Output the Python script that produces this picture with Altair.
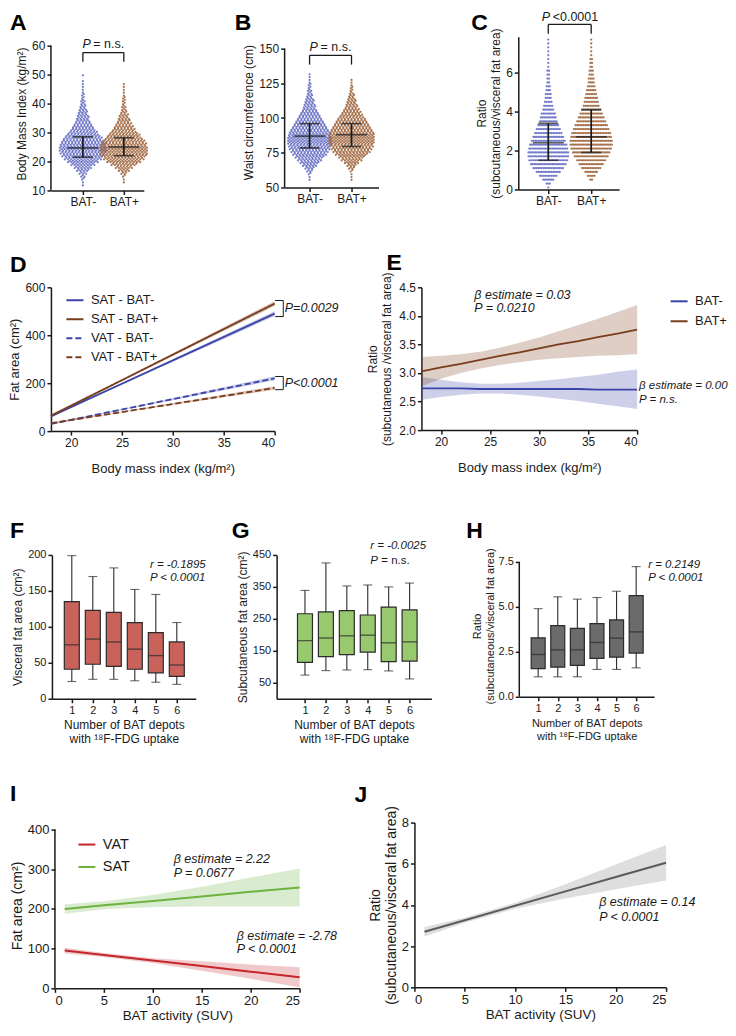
import altair as alt
import pandas as pd

FONT = "Liberation Sans"
INK = "#1a1a1a"
BLUE_DOT, BROWN_DOT = "#6d75c6", "#a36c45"
BLUE, BROWN = "#3b43a7", "#7a3d1b"
RED, GREEN = "#c4262b", "#6cb33f"
J_GREY = "#5b5b5b"
F_FILL, G_FILL, H_FILL = "#c9625a", "#98c96f", "#6b6b6b"
EDGE = "#2b2b2b"
DOT_STEP_PX = 1.65

LETTERS = ["A", "B", "C", "D", "E", "F", "G", "H", "I", "J"]
GROUPS = ["BAT-", "BAT+"]

# ---------------- A: BMI (dots per 1 kg/m2 row) ----------------
A_rows = list(range(12, 51))
A_neg = [1, 1, 2, 3, 5, 8, 11, 15, 19, 23, 26, 28, 29, 29, 28, 26, 24, 21, 18, 15,
         13, 11, 9, 8, 7, 6, 5, 4, 3, 3, 2, 2, 1, 1, 1, 1, 1, 0, 1]
A_pos = [0, 1, 1, 2, 4, 7, 11, 16, 21, 25, 28, 29, 29, 29, 28, 26, 23, 20, 17, 14,
         12, 10, 8, 7, 6, 4, 3, 3, 2, 2, 2, 1, 1, 1, 1, 1, 0, 0, 0]
A_mean, A_lo, A_hi = [24.7, 25.0], [21.5, 22.0], [28.5, 28.2]

# ---------------- B: waist (dots per 2 cm row) ----------------
B_rows = list(range(56, 133, 2))
B_neg = [1, 1, 2, 4, 6, 9, 12, 15, 18, 21, 23, 25, 26, 27, 27, 27, 26, 25, 23, 21,
         19, 17, 15, 13, 11, 9, 8, 7, 6, 5, 4, 3, 3, 2, 2, 1, 1, 1, 1]
B_pos = [1, 1, 1, 2, 4, 6, 9, 13, 16, 20, 23, 25, 27, 28, 28, 28, 28, 27, 25, 23,
         21, 19, 17, 14, 12, 10, 8, 7, 6, 5, 4, 3, 2, 2, 1, 1, 1, 0, 0]
B_mean, B_lo, B_hi = [87.0, 88.0], [78.5, 79.5], [96.0, 96.0]

# ---------------- C: ratio (dots per 0.2 row) ----------------
C_rows = [0.1, 0.3, 0.5, 0.7, 0.9, 1.1, 1.3, 1.5, 1.7, 1.9, 2.1, 2.3, 2.5, 2.7, 2.9,
          3.1, 3.3, 3.5, 3.7, 3.9, 4.1, 4.3, 4.5, 4.7, 4.9, 5.1, 5.3, 5.5, 5.7, 5.9,
          6.1, 6.3, 6.5, 6.7, 6.9, 7.1, 7.3, 7.5, 7.7]
C_neg = [1, 3, 7, 11, 15, 19, 22, 24, 25, 25, 24, 23, 21, 19, 17, 15, 13, 11, 10, 9,
         7, 6, 5, 4, 4, 3, 3, 2, 2, 2, 2, 1, 1, 1, 1, 1, 1, 1, 1]
C_pos = [0, 0, 2, 5, 8, 12, 15, 18, 21, 23, 25, 26, 26, 25, 24, 22, 20, 18, 16, 14,
         12, 10, 9, 8, 7, 6, 5, 4, 4, 3, 3, 2, 2, 2, 1, 1, 1, 1, 1]
C_mean, C_lo, C_hi = [2.4, 2.7], [1.5, 1.9], [3.4, 4.1]

# ---------------- D: fat area vs BMI ----------------
D_series = ["SAT - BAT-", "SAT - BAT+", "VAT - BAT-", "VAT - BAT+"]
D_x = [18, 40]
D_line = {"SAT - BAT-": [62, 490], "SAT - BAT+": [64, 532],
          "VAT - BAT-": [30, 220], "VAT - BAT+": [33, 180]}
D_band_x = [18, 25, 40]
D_band_lo = {"SAT - BAT-": [56, 195, 480], "SAT - BAT+": [58, 210, 522],
             "VAT - BAT-": [26, 88, 212], "VAT - BAT+": [29, 78, 173]}
D_band_hi = {"SAT - BAT-": [68, 201, 500], "SAT - BAT+": [70, 216, 542],
             "VAT - BAT-": [34, 92, 229], "VAT - BAT+": [37, 82, 187]}
D_p_text = ["P=0.0029", "P<0.0001"]
D_p_y = [512, 200]
D_br_top, D_br_bot = [545, 228], [478, 173]

# ---------------- E: ratio vs BMI ----------------
E_x = [18, 20, 22, 24, 26, 28, 30, 32, 34, 36, 38, 40]
E_pos_fit = [3.03, 3.10, 3.16, 3.23, 3.30, 3.36, 3.43, 3.50, 3.56, 3.63, 3.69, 3.76]
E_pos_lo = [2.77, 2.90, 3.00, 3.08, 3.14, 3.19, 3.23, 3.26, 3.28, 3.30, 3.31, 3.33]
E_pos_hi = [3.28, 3.30, 3.33, 3.37, 3.44, 3.53, 3.62, 3.73, 3.84, 3.95, 4.07, 4.19]
E_neg_fit = [2.73, 2.73, 2.73, 2.72, 2.72, 2.72, 2.72, 2.72, 2.72, 2.71, 2.71, 2.71]
E_neg_lo = [2.53, 2.58, 2.62, 2.64, 2.64, 2.62, 2.59, 2.55, 2.51, 2.46, 2.42, 2.37]
E_neg_hi = [2.93, 2.88, 2.84, 2.81, 2.81, 2.83, 2.86, 2.89, 2.93, 2.97, 3.02, 3.06]

# ---------------- F / G / H: box plots by number of BAT depots ----------------
DEPOTS = [1, 2, 3, 4, 5, 6]
F_low = [24, 27, 27, 25, 23, 20]
F_q1 = [41, 48, 45, 41, 36, 31]
F_med = [75, 83, 79, 69, 60, 47]
F_q3 = [135, 123, 120, 106, 92, 79]
F_high = [199, 170, 182, 152, 145, 106]
G_low = [74, 88, 90, 91, 87, 62]
G_q1 = [114, 132, 138, 146, 116, 118]
G_med = [182, 190, 197, 199, 175, 178]
G_q3 = [266, 272, 276, 262, 287, 278]
G_high = [339, 425, 353, 356, 350, 362]
H_low = [1.11, 1.11, 1.11, 1.52, 1.52, 1.61]
H_q1 = [1.56, 1.65, 1.74, 2.13, 2.20, 2.43]
H_med = [2.35, 2.61, 2.61, 3.02, 3.26, 3.61]
H_q3 = [3.28, 3.96, 3.80, 4.07, 4.28, 5.63]
H_high = [4.90, 5.56, 5.43, 5.52, 5.87, 7.24]

# ---------------- I / J: vs BAT activity ----------------
IJ_x = [1, 5, 10, 15, 20, 25]
I_sat_fit = [200, 209, 220, 231, 243, 254]
I_sat_lo = [188, 199, 205, 206, 206, 206]
I_sat_hi = [212, 219, 235, 256, 279, 302]
I_vat_fit = [95, 84, 70, 56, 42, 28]
I_vat_lo = [88, 79, 64, 44, 24, 3]
I_vat_hi = [102, 89, 76, 68, 60, 53]
J_fit = [2.70, 3.26, 3.96, 4.66, 5.36, 6.05]
J_lo = [2.47, 3.14, 3.81, 4.31, 4.76, 5.19]
J_hi = [2.93, 3.38, 4.11, 5.01, 5.96, 6.91]


# ======================= helpers =======================
def sc(dom):
    return alt.Scale(domain=list(dom), nice=False, zero=False)


class Frame:
    def __init__(self, xdom, ydom, xa, ya):
        self.xs, self.ys, self.xa, self.ya = sc(xdom), sc(ydom), xa, ya

    def X(self, f):
        return alt.X(f, type="quantitative", scale=self.xs, axis=self.xa)

    def Y(self, f):
        return alt.Y(f, type="quantitative", scale=self.ys, axis=self.ya)


def yaxis(values, title, lsize, tsize, domain=True, fmt=None, tpad=3):
    kw = dict(values=values, title=title, labelFontSize=lsize, titleFontSize=tsize,
              domain=domain, titlePadding=tpad)
    if fmt:
        kw["format"] = fmt
    return alt.Axis(**kw)


def xaxis(values, title, lsize, tsize, tpad=3, expr=None, fmt=None):
    kw = dict(values=values, title=title, labelFontSize=lsize, titleFontSize=tsize,
              titlePadding=tpad, labelAngle=0)
    if expr:
        kw["labelExpr"] = expr
    if fmt:
        kw["format"] = fmt
    return alt.Axis(**kw)


def note(fr, xv, yv, texts, size, italic=True, dx=0, align="left"):
    df = pd.DataFrame({"x": xv, "y": yv, "t": texts})
    return alt.Chart(df).mark_text(
        align=align, baseline="middle", dx=dx, fontSize=size,
        fontStyle="italic" if italic else "normal", font=FONT, color=INK
    ).encode(x=fr.X("x"), y=fr.Y("y"), text="t:N")


def letter(ch, dx, dy):
    return alt.Chart(pd.DataFrame({"t": [ch]})).mark_text(
        align="left", baseline="top", fontSize=23, fontWeight="bold",
        font=FONT, color="black"
    ).encode(x=alt.value(dx), y=alt.value(dy), text="t:N")


def axis_line(fr, lo, hi):
    df = pd.DataFrame({"a": [lo], "b": [hi]})
    return alt.Chart(df).mark_rule(color=INK, strokeWidth=1.5).encode(
        x=alt.value(0), y=fr.Y("a"), y2="b:Q")


def gap(w):
    return alt.Chart(pd.DataFrame({"s": [0]})).mark_point(opacity=0).encode(
        x=alt.value(0), y=alt.value(0)).properties(width=w, height=1)


def row_spacer(w, h, top):
    # invisible guide fixing how far a row reaches above and below its plot tops
    return alt.Chart(pd.DataFrame({"s": [0]})).mark_rule(opacity=0, strokeWidth=0).encode(
        x=alt.value(0), y=alt.value(-top), y2=alt.value(h)).properties(width=w, height=h)


def stroke_legend(x, y, size, pad):
    return alt.Legend(orient="none", legendX=x, legendY=y, title=None, labelFontSize=size,
                      symbolType="stroke", symbolSize=290, symbolStrokeWidth=2, rowPadding=pad,
                      labelOffset=6, padding=0, labelFont=FONT, labelColor=INK)


# ======================= swarm panels =======================
def swarm_panel(ch, lxy, rows, counts, stats, xdom, ydom, yvals, ytitle, w, h,
                bracket, ptext, span=None, fmt=None, stagger=0.0):
    xa = alt.Axis(values=[1, 2], labelExpr="datum.value == 1 ? 'BAT-' : 'BAT+'",
                  title=None, labelFontSize=12)
    ya = yaxis(yvals, ytitle, 12, 12, domain=span is None, fmt=fmt)
    fr = Frame(xdom, ydom, xa, ya)
    step = DOT_STEP_PX / (w / (xdom[1] - xdom[0]))
    recs = []
    for gi, g in enumerate(GROUPS):
        for yv, n in zip(rows, counts[gi]):
            for k in range(n):
                recs.append({"x": gi + 1 + (k - (n - 1) / 2) * step,
                             "y": yv + (stagger if k % 2 else -stagger), "grp": g})
    dots = pd.DataFrame(recs)
    layers = [alt.Chart(dots).mark_circle(size=5, opacity=0.95).encode(
        x=fr.X("x"), y=fr.Y("y"),
        color=alt.Color("grp:N", scale=alt.Scale(domain=GROUPS, range=[BLUE_DOT, BROWN_DOT]),
                        legend=None))]
    eb = pd.DataFrame({"x": [1, 2], "mean": stats[0], "lo": stats[1], "hi": stats[2]})
    layers.append(alt.Chart(eb).mark_rule(color=INK, strokeWidth=1.7).encode(
        x=fr.X("x"), y=fr.Y("lo"), y2="hi:Q"))
    for field, size in (("mean", 31), ("lo", 20), ("hi", 20)):
        layers.append(alt.Chart(eb).mark_tick(orient="horizontal", size=size, thickness=1.7,
                                              color=INK).encode(x=fr.X("x"), y=fr.Y(field)))
    seg = pd.DataFrame({"x": [1, 1, 2], "x2": [2, 1, 2],
                        "y": [bracket[0], bracket[1], bracket[1]],
                        "y2": [bracket[0], bracket[0], bracket[0]]})
    layers.append(alt.Chart(seg).mark_rule(color=INK, strokeWidth=1.3).encode(
        x=fr.X("x"), x2="x2:Q", y=fr.Y("y"), y2="y2:Q"))
    p_first, p_rest, p_y, p_dx = ptext
    layers.append(note(fr, [1.5], [p_y], [p_first], 12.5, italic=True, dx=p_dx[0]))
    layers.append(note(fr, [1.5], [p_y], [p_rest], 12.5, italic=False, dx=p_dx[1]))
    if span:
        layers.append(axis_line(fr, span[0], span[1]))
    layers.append(letter(ch, lxy[0], lxy[1]))
    return alt.layer(*layers).properties(width=w, height=h)


panel_A = swarm_panel("A", (-41, -25), A_rows, (A_neg, A_pos), (A_mean, A_lo, A_hi),
                      (0.22, 2.488), (10, 63.1), [10, 20, 30, 40, 50, 60],
                      "Body Mass Index (kg/m²)", 93, 154, (57.6, 54.4),
                      ("P", "= n.s.", 60.7, (-21, -10)), span=(10, 60), stagger=0.25)
panel_B = swarm_panel("B", (-50, -25), B_rows, (B_neg, B_pos), (B_mean, B_lo, B_hi),
                      (0.405, 2.643), (50, 158.63), [50, 75, 100, 125, 150],
                      "Waist circumference (cm)", 94, 151, (145.2, 138.5),
                      ("P", "= n.s.", 151.2, (-21, -10)), span=(50, 150), stagger=0.5)
panel_C = swarm_panel("C", (-47, -25), C_rows, (C_neg, C_pos), (C_mean, C_lo, C_hi),
                      (0.302, 2.651), (0, 7.85), [0, 2, 4, 6],
                      ["Ratio", "(subcutaneous/visceral fat area)"], 101, 153, (8.48, 8.0),
                      ("P", "<0.0001", 8.86, (-28, -17)))

# ======================= D =======================
D_colors = [BLUE, BROWN, BLUE, BROWN]
xaD = xaxis([20, 25, 30, 35, 40], "Body mass index (kg/m²)", 12, 13, tpad=14)
yaD = yaxis([0, 200, 400, 600], "Fat area (cm²)", 12, 13)
frD = Frame((18, 40), (0, 600), xaD, yaD)
d_line = pd.DataFrame([{"x": x, "y": D_line[s][i], "s": s}
                       for s in D_series for i, x in enumerate(D_x)])
d_band = pd.DataFrame([{"x": x, "lo": D_band_lo[s][i], "hi": D_band_hi[s][i], "s": s,
                        "c": D_colors[D_series.index(s)]}
                       for s in D_series for i, x in enumerate(D_band_x)])
legD = stroke_legend(14, 3, 13, 2)
d_layers = [
    alt.Chart(d_band).mark_area(opacity=0.3).encode(
        x=frD.X("x"), y=frD.Y("lo"), y2="hi:Q", fill=alt.Fill("c:N", scale=None),
        detail="s:N"),
    alt.Chart(d_line).mark_line(strokeWidth=1.8).encode(
        x=frD.X("x"), y=frD.Y("y"),
        color=alt.Color("s:N", scale=alt.Scale(domain=D_series, range=D_colors), legend=legD),
        strokeDash=alt.StrokeDash("s:N", scale=alt.Scale(domain=D_series,
                                  range=[[1, 0], [1, 0], [6, 3], [6, 3]]), legend=legD)),
]
d_seg = []
for top, bot in zip(D_br_top, D_br_bot):
    d_seg += [{"x": 40.05, "x2": 40.85, "y": top, "y2": top},
              {"x": 40.85, "x2": 40.85, "y": bot, "y2": top},
              {"x": 40.05, "x2": 40.85, "y": bot, "y2": bot}]
d_layers.append(alt.Chart(pd.DataFrame(d_seg)).mark_rule(color=INK, strokeWidth=1).encode(
    x=frD.X("x"), x2="x2:Q", y=frD.Y("y"), y2="y2:Q"))
d_layers.append(note(frD, [41.0, 41.0], D_p_y, D_p_text, 12.5))
d_layers.append(letter("D", -41, -33.5))
panel_D = alt.layer(*d_layers).properties(width=224, height=144)

# ======================= E =======================
xaE = xaxis([20, 25, 30, 35, 40], "Body mass index (kg/m²)", 12, 13, tpad=14)
yaE = yaxis([2.0, 2.5, 3.0, 3.5, 4.0, 4.5], ["Ratio", "(subcutaneous /visceral fat area)"],
            12, 12, fmt=".1f", tpad=5)
frE = Frame((18, 40), (2.0, 4.5), xaE, yaE)
e_line = pd.DataFrame([{"x": x, "y": v, "s": "BAT-"} for x, v in zip(E_x, E_neg_fit)] +
                      [{"x": x, "y": v, "s": "BAT+"} for x, v in zip(E_x, E_pos_fit)])
e_band = pd.DataFrame(
    [{"x": x, "lo": a, "hi": b, "s": "BAT-", "c": BLUE} for x, a, b in zip(E_x, E_neg_lo, E_neg_hi)] +
    [{"x": x, "lo": a, "hi": b, "s": "BAT+", "c": BROWN} for x, a, b in zip(E_x, E_pos_lo, E_pos_hi)])
legE = stroke_legend(248, 4, 13, 3)
e_layers = [
    alt.Chart(e_band).mark_area(opacity=0.25).encode(
        x=frE.X("x"), y=frE.Y("lo"), y2="hi:Q", fill=alt.Fill("c:N", scale=None), detail="s:N"),
    alt.Chart(e_line).mark_line(strokeWidth=1.8).encode(
        x=frE.X("x"), y=frE.Y("y"),
        color=alt.Color("s:N", scale=alt.Scale(domain=GROUPS, range=[BLUE, BROWN]), legend=legE)),
    note(frE, [23.4, 23.4], [4.37, 4.13], ["β estimate = 0.03", "P = 0.0210"], 12.5),
    note(frE, [40.2, 40.2], [2.77, 2.52], ["β estimate = 0.00", "P = n.s."], 11.5),
    letter("E", -35, -35),
]
panel_E = alt.layer(*e_layers).properties(width=216, height=143)


# ======================= F / G / H =======================
def box_panel(ch, lxy, stats, fill, xdom, ydom, yvals, ytitle, w, h, notes,
              span=None, fmt=None, lsize=11, tsize=12, bw=15):
    xa = xaxis(DEPOTS, ["Number of BAT depots", "with ¹⁸F-FDG uptake"], lsize, tsize, tpad=4,
               fmt="d")
    ya = yaxis(yvals, ytitle, lsize, tsize, domain=span is None, fmt=fmt)
    fr = Frame(xdom, ydom, xa, ya)
    low, q1, med, q3, high = stats
    df = pd.DataFrame({"x": DEPOTS, "low": low, "q1": q1, "med": med, "q3": q3, "high": high})
    base = alt.Chart(df)
    layers = [
        base.mark_rule(color=EDGE, strokeWidth=1.1).encode(x=fr.X("x"), y=fr.Y("low"), y2="high:Q"),
        base.mark_tick(orient="horizontal", size=9, thickness=1.1, color=EDGE).encode(
            x=fr.X("x"), y=fr.Y("low")),
        base.mark_tick(orient="horizontal", size=9, thickness=1.1, color=EDGE).encode(
            x=fr.X("x"), y=fr.Y("high")),
        base.mark_bar(size=bw, fill=fill, stroke=EDGE, strokeWidth=1.2).encode(
            x=fr.X("x"), y=fr.Y("q1"), y2="q3:Q"),
        base.mark_tick(orient="horizontal", size=bw, thickness=1.4, color=EDGE).encode(
            x=fr.X("x"), y=fr.Y("med")),
    ]
    for (xv, yv, txt, it, dx) in notes:
        layers.append(note(fr, [xv], [yv], [txt], 11.5, italic=it, dx=dx))
    if span:
        layers.append(axis_line(fr, span[0], span[1]))
    layers.append(letter(ch, lxy[0], lxy[1]))
    return alt.layer(*layers).properties(width=w, height=h)


panel_F = box_panel("F", (-42, -34.5), (F_low, F_q1, F_med, F_q3, F_high), F_FILL,
                    (0.292, 6.664), (0, 200), [0, 50, 100, 150, 200], "Visceral fat area (cm²)",
                    144, 144,
                    [(4.72, 186, "r = -0.1895", True, 0), (4.72, 168, "P < 0.0001", True, 0)])
panel_G = box_panel("G", (-45, -35), (G_low, G_q1, G_med, G_q3, G_high), G_FILL,
                    (-0.116, 6.804), (0, 450), [50, 150, 250, 350, 450],
                    "Subcutaneous fat area (cm²)", 155, 144,
                    [(4.12, 478, "r = -0.0025", True, 0), (4.12, 431, "P", True, 0),
                     (4.12, 431, "= n.s.", False, 11)])
panel_H = box_panel("H", (-53, -35), (H_low, H_q1, H_med, H_q3, H_high), H_FILL,
                    (0.292, 6.66), (0, 7.889), [0, 2.5, 5.0, 7.5],
                    ["Ratio", "(subcutaneous/visceral fat area)"], 135, 142,
                    [(6.61, 7.33, "r = 0.2149", True, 0), (6.61, 6.61, "P < 0.0001", True, 0)],
                    span=(0, 7.5), fmt=".1f", tsize=11, bw=14)

# ======================= I =======================
xaI = xaxis([0, 5, 10, 15, 20, 25], "BAT activity (SUV)", 13, 13.5, tpad=1)
yaI = yaxis([0, 100, 200, 300, 400], "Fat area (cm²)", 13, 14, domain=False)
frI = Frame((0, 25), (0, 417.3), xaI, yaI)
i_line = pd.DataFrame([{"x": x, "y": v, "s": "VAT"} for x, v in zip(IJ_x, I_vat_fit)] +
                      [{"x": x, "y": v, "s": "SAT"} for x, v in zip(IJ_x, I_sat_fit)])
i_band = pd.DataFrame(
    [{"x": x, "lo": a, "hi": b, "s": "VAT", "c": RED} for x, a, b in zip(IJ_x, I_vat_lo, I_vat_hi)] +
    [{"x": x, "lo": a, "hi": b, "s": "SAT", "c": GREEN} for x, a, b in zip(IJ_x, I_sat_lo, I_sat_hi)])
legI = stroke_legend(22, 12, 14.5, 5.5)
i_layers = [
    alt.Chart(i_band).mark_area(opacity=0.25).encode(
        x=frI.X("x"), y=frI.Y("lo"), y2="hi:Q", fill=alt.Fill("c:N", scale=None), detail="s:N"),
    alt.Chart(i_line).mark_line(strokeWidth=2).encode(
        x=frI.X("x"), y=frI.Y("y"),
        color=alt.Color("s:N", scale=alt.Scale(domain=["VAT", "SAT"], range=[RED, GREEN]),
                        legend=legI)),
    note(frI, [12.14, 12.14], [326, 291], ["β estimate = 2.22", "P = 0.0677"], 12.5),
    note(frI, [18.57, 18.57], [131, 99], ["β estimate = -2.78", "P < 0.0001"], 12.5),
    axis_line(frI, 0, 400),
    letter("I", -45, -39.5),
]
panel_I = alt.layer(*i_layers).properties(width=245, height=166)

# ======================= J =======================
xaJ = xaxis([0, 5, 10, 15, 20, 25], "BAT activity (SUV)", 13, 13.5, tpad=1)
yaJ = yaxis([0, 2, 4, 6, 8], ["Ratio", "(subcutaneous/visceral fat area)"], 13, 14)
frJ = Frame((0, 25), (0, 8), xaJ, yaJ)
j_df = pd.DataFrame({"x": IJ_x, "y": J_fit, "lo": J_lo, "hi": J_hi})
j_layers = [
    alt.Chart(j_df).mark_area(color="#c8c8c8", opacity=0.6).encode(
        x=frJ.X("x"), y=frJ.Y("lo"), y2="hi:Q"),
    alt.Chart(j_df).mark_line(color=J_GREY, strokeWidth=2).encode(x=frJ.X("x"), y=frJ.Y("y")),
    note(frJ, [18.35, 18.35], [4.14, 3.43], ["β estimate = 0.14", "P < 0.0001"], 12.5),
    letter("J", -60, -38.5),
]
panel_J = alt.layer(*j_layers).properties(width=252, height=165)


# ======================= layout =======================
def row(*items):
    return alt.hconcat(*items, spacing=0, bounds="flush").resolve_scale(
        color="independent", strokeDash="independent")


row1 = row(row_spacer(41, 203, 28), panel_A, gap(141), panel_B, gap(140), panel_C)
row2 = row(row_spacer(41, 220, 48), panel_D, gap(147), panel_E)
row3 = row(row_spacer(42, 220, 48), panel_F, gap(81), panel_G, gap(88), panel_H)
row4 = row(row_spacer(45, 166, 48), panel_I, gap(115), panel_J)

chart = alt.vconcat(row1, row2, row3, row4, spacing=0).resolve_scale(
    color="independent", strokeDash="independent"
).properties(padding=0).configure_view(stroke=None).configure_axis(
    domainColor=INK, domainWidth=1.5, tickColor=INK, tickWidth=1.5, tickSize=4,
    labelColor=INK, titleColor=INK, labelFont=FONT, titleFont=FONT,
    titleFontWeight="normal", grid=False, labelPadding=2
)

chart.save("out.html", embed_options={"renderer": "svg", "actions": False})
